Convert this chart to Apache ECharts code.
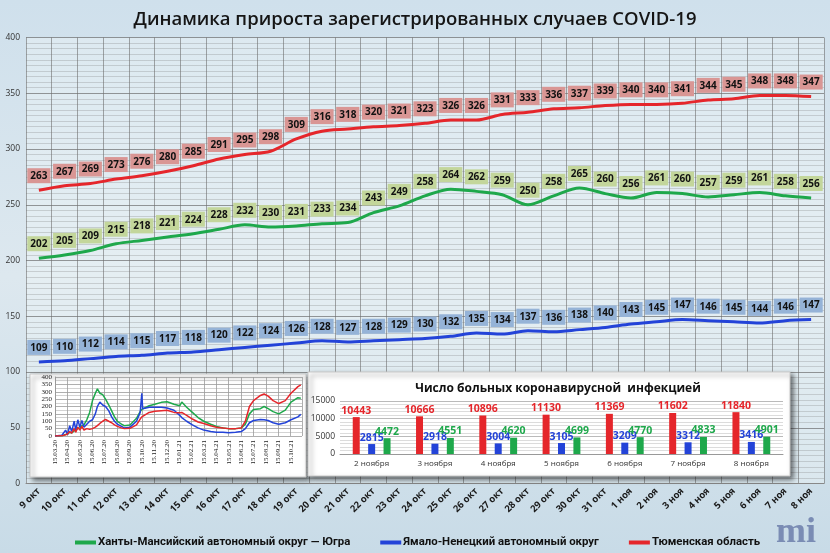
<!DOCTYPE html>
<html><head><meta charset="utf-8">
<script src="https://cdn.jsdelivr.net/npm/echarts@6/dist/echarts.min.js"></script>
<style>html,body{margin:0;padding:0;}#c{width:830px;height:553px;}</style>
</head><body><div id="c"></div>
<script>
// ---------- main chart data ----------
const categories = ['9 окт','10 окт','11 окт','12 окт','13 окт','14 окт','15 окт','16 окт','17 окт','18 окт','19 окт','20 окт','21 окт','22 окт','23 окт','24 окт','25 окт','26 окт','27 окт','28 окт','29 окт','30 окт','31 окт','1 ноя','2 ноя','3 ноя','4 ноя','5 ноя','6 ноя','7 ноя','8 ноя'];
const hmao = [202,205,209,215,218,221,224,228,232,230,231,233,234,243,249,258,264,262,259,250,258,265,260,256,261,260,257,259,261,258,256];
const yanao = [109,110,112,114,115,117,118,120,122,124,126,128,127,128,129,130,132,135,134,137,136,138,140,143,145,147,146,145,144,146,147];
const tyumen = [263,267,269,273,276,280,285,291,295,298,309,316,318,320,321,323,326,326,331,333,336,337,339,340,340,341,344,345,348,348,347];
const seriesNames = ['Ханты-Мансийский автономный округ — Югра','Ямало-Ненецкий автономный округ','Тюменская область'];

// ---------- mini (history) chart data ----------
const miniDates = ['2020-03-15','2020-04-01','2020-04-10','2020-04-15','2020-04-20','2020-04-25','2020-05-01','2020-05-05','2020-05-10','2020-05-15','2020-05-20','2020-05-25','2020-06-01','2020-06-08','2020-06-15','2020-06-22','2020-06-27','2020-07-03','2020-07-10','2020-07-17','2020-07-25','2020-08-01','2020-08-08','2020-08-15','2020-08-25','2020-09-01','2020-09-15','2020-10-01','2020-10-10','2020-10-14','2020-10-16','2020-11-01','2020-11-15','2020-12-01','2020-12-15','2021-01-01','2021-01-15','2021-01-20','2021-02-01','2021-02-15','2021-03-01','2021-03-15','2021-04-01','2021-04-15','2021-05-01','2021-05-15','2021-06-01','2021-06-15','2021-06-25','2021-07-05','2021-07-15','2021-08-01','2021-08-10','2021-08-20','2021-09-01','2021-09-15','2021-10-01','2021-10-15','2021-11-01','2021-11-08'];
const miniHmao = [0,2,10,15,25,20,35,40,50,55,70,75,110,160,240,290,320,290,280,250,210,170,130,100,80,70,75,120,165,180,185,205,215,228,232,215,205,230,195,160,125,100,80,65,55,50,50,55,80,150,180,185,200,185,165,150,175,230,260,256];
const miniYanao = [0,5,40,10,70,30,100,40,110,60,105,60,80,100,110,150,200,230,210,200,170,130,100,80,65,55,60,100,160,290,185,195,195,195,190,175,140,125,100,75,55,40,30,25,25,22,25,30,50,90,105,112,110,105,90,80,90,110,130,147];
const miniTyumen = [0,1,8,15,30,20,50,25,60,40,65,40,50,45,50,60,70,85,100,112,100,90,75,65,55,50,52,75,115,130,135,160,168,172,175,160,158,160,140,115,95,85,70,60,55,50,50,55,100,200,240,275,285,270,240,220,240,290,335,347];
const miniTickLabels = ['15.03.20','15.04.20','15.05.20','15.06.20','15.07.20','15.08.20','15.09.20','15.10.20','15.11.20','15.12.20','15.01.21','15.02.21','15.03.21','15.04.21','15.05.21','15.06.21','15.07.21','15.08.21','15.09.21','15.10.21'];

// ---------- bar chart data ----------
const barCategories = ['2 ноября','3 ноября','4 ноября','5 ноября','6 ноября','7 ноября','8 ноября'];
const barTyumen = [10443,10666,10896,11130,11369,11602,11840];
const barYanao = [2815,2918,3004,3105,3209,3312,3416];
const barHmao = [4472,4551,4620,4699,4770,4833,4901];

const RED = '#e5262b', GREEN = '#1ea84b', BLUE = '#2343d8';
const FONT = 'Open Sans';
const base = Date.parse('2020-03-15');
const toDay = d => (Date.parse(d) - base) / 86400000;
const pairs = vals => miniDates.map((d, i) => [toDay(d), vals[i]]);

const mainLabel = bg => ({
  show: true, position: 'top', distance: 7, backgroundColor: bg,
  borderWidth: 0, borderColor: 'transparent', textBorderWidth: 0, textBorderColor: 'transparent',
  shadowBlur: 0, textShadowBlur: 0,
  padding: [3, 3, 2, 3], color: '#111', fontWeight: 'bold', fontSize: 10, fontFamily: FONT
});
const barLabel = c => ({ show: true, position: 'top', distance: 1, color: c, fontWeight: 'bold', fontSize: 10.5, fontFamily: FONT,
  textBorderWidth: 0, textBorderColor: 'transparent' });

const chart = echarts.init(document.getElementById('c'));
chart.setOption({
  animation: false,
  backgroundColor: {
    type: 'linear', x: 0, y: 0, x2: 0, y2: 1,
    colorStops: [{offset: 0, color: '#cfe0ec'}, {offset: 0.5, color: '#dde8ef'}, {offset: 1, color: '#c8dbe7'}]
  },
  title: [
    { text: 'Динамика прироста зарегистрированных случаев COVID-19', left: 'center', top: 5,
      textStyle: { fontFamily: FONT, fontSize: 18.5, fontWeight: 600, color: '#151515' } },
    { text: 'Число больных коронавирусной  инфекцией', left: 553, top: 378, textAlign: 'center', z: 20,
      textStyle: { fontFamily: FONT, fontSize: 12, fontWeight: 'bold', color: '#111' } }
  ],
  legend: {
    data: seriesNames, left: 70, top: 532, itemGap: 30, icon: 'rect', itemWidth: 21, itemHeight: 4,
    textStyle: { fontFamily: 'Roboto', fontSize: 11.4, fontWeight: 'bold', color: '#111', padding: [0, 0, 0, -3] }
  },
  graphic: [
    { type: 'rect', z: 10, shape: { x: 30, y: 374, width: 276, height: 103 },
      style: { fill: '#ffffff', stroke: '#c8c8c8', lineWidth: 1, shadowBlur: 5, shadowOffsetX: 3, shadowOffsetY: 3, shadowColor: 'rgba(0,0,0,0.55)' } },
    { type: 'rect', z: 10, shape: { x: 308, y: 372, width: 482, height: 104 },
      style: { fill: '#ffffff', stroke: '#c8c8c8', lineWidth: 1, shadowBlur: 5, shadowOffsetX: 3, shadowOffsetY: 3, shadowColor: 'rgba(0,0,0,0.55)' } },
    { type: 'text', z: 10, left: 776, top: 515,
      style: { text: 'mi', fill: '#7a8cb4', font: 'bold 36px "Liberation Serif"' } }
  ],
  grid: [
    { left: 26, right: 6, top: 37.5, bottom: 69.5, show: true, backgroundColor: 'rgba(244,248,250,0.35)', borderWidth: 0 },
    { left: 55, right: 528, top: 377, bottom: 117, z: 11 },
    { left: 340, right: 47, top: 401, bottom: 99, z: 11 }
  ],
  xAxis: [
    { type: 'category', gridIndex: 0, data: categories, boundaryGap: true,
      axisLine: { lineStyle: { color: '#888' } }, axisTick: { show: false },
      splitLine: { show: true, interval: 0, lineStyle: { color: 'rgba(110,110,110,0.6)', width: 1 } },
      axisLabel: { rotate: 45, interval: 0, margin: 6, fontFamily: FONT, fontSize: 9.5, fontWeight: 'bold', color: '#1a1a1a' } },
    { type: 'value', gridIndex: 1, min: 0, max: 606, interval: 30.44, z: 12,
      axisLine: { show: false }, axisTick: { show: false },
      splitLine: { show: true, lineStyle: { color: '#9a9a9a', width: 0.8 } },
      axisLabel: { rotate: 90, margin: 4, showMaxLabel: false, fontFamily: 'Liberation Serif', fontSize: 7, color: '#222',
        formatter: v => miniTickLabels[Math.round(v / 30.44)] || '' } },
    { type: 'category', gridIndex: 2, data: barCategories, z: 12,
      axisLine: { lineStyle: { color: '#999' } }, axisTick: { show: false },
      axisLabel: { fontFamily: FONT, fontSize: 8, color: '#333', margin: 6 } }
  ],
  yAxis: [
    { type: 'value', gridIndex: 0, min: 0, max: 400, interval: 50,
      axisLine: { show: false }, axisTick: { show: false },
      axisLabel: { fontFamily: FONT, fontSize: 8.5, color: '#333', margin: 6 },
      splitLine: { lineStyle: { color: 'rgba(100,100,100,0.65)', width: 1 } },
      minorTick: { show: false, splitNumber: 10 },
      minorSplitLine: { show: true, lineStyle: { color: 'rgba(120,120,120,0.35)', width: 0.8 } } },
    { type: 'value', gridIndex: 1, min: 0, max: 400, interval: 50, z: 12,
      axisLine: { show: true, lineStyle: { color: '#999' } }, axisTick: { show: false },
      axisLabel: { fontFamily: 'Liberation Serif', fontSize: 7, color: '#222', margin: 3 },
      splitLine: { lineStyle: { color: '#9a9a9a', width: 0.8 } },
      minorTick: { show: false, splitNumber: 2 },
      minorSplitLine: { show: true, lineStyle: { color: '#b5b5b5', width: 0.6 } } },
    { type: 'value', gridIndex: 2, min: 0, max: 15000, interval: 5000, z: 12,
      axisLine: { show: false }, axisTick: { show: false },
      axisLabel: { fontFamily: FONT, fontSize: 8.5, color: '#333', margin: 5, formatter: v => String(v) },
      splitLine: { lineStyle: { color: '#a8a8a8', width: 0.8 } },
      minorTick: { show: false, splitNumber: 5 },
      minorSplitLine: { show: true, lineStyle: { color: '#c4c4c4', width: 0.6 } } }
  ],
  series: [
    { name: seriesNames[0], type: 'line', xAxisIndex: 0, yAxisIndex: 0, data: hmao, smooth: 0.3,
      showSymbol: true, symbol: 'circle', symbolSize: 0.1,
      lineStyle: { color: GREEN, width: 3 }, itemStyle: { color: GREEN }, label: mainLabel('#c3d69b') },
    { name: seriesNames[1], type: 'line', xAxisIndex: 0, yAxisIndex: 0, data: yanao, smooth: 0.3,
      showSymbol: true, symbol: 'circle', symbolSize: 0.1,
      lineStyle: { color: BLUE, width: 3 }, itemStyle: { color: BLUE }, label: mainLabel('#95b3d7') },
    { name: seriesNames[2], type: 'line', xAxisIndex: 0, yAxisIndex: 0, data: tyumen, smooth: 0.3,
      showSymbol: true, symbol: 'circle', symbolSize: 0.1,
      lineStyle: { color: RED, width: 3 }, itemStyle: { color: RED }, label: mainLabel('#d99694') },

    { type: 'line', xAxisIndex: 1, yAxisIndex: 1, data: pairs(miniHmao), symbol: 'none', z: 13,
      lineStyle: { color: GREEN, width: 1.5 } },
    { type: 'line', xAxisIndex: 1, yAxisIndex: 1, data: pairs(miniYanao), symbol: 'none', z: 13,
      lineStyle: { color: BLUE, width: 1.5 } },
    { type: 'line', xAxisIndex: 1, yAxisIndex: 1, data: pairs(miniTyumen), symbol: 'none', z: 13,
      lineStyle: { color: RED, width: 1.5 } },

    { type: 'bar', xAxisIndex: 2, yAxisIndex: 2, data: barTyumen, barWidth: 7, barGap: '120%', z: 13,
      itemStyle: { color: RED }, label: barLabel(RED) },
    { type: 'bar', xAxisIndex: 2, yAxisIndex: 2, data: barYanao, barWidth: 7, barGap: '120%', z: 13,
      itemStyle: { color: BLUE }, label: barLabel(BLUE) },
    { type: 'bar', xAxisIndex: 2, yAxisIndex: 2, data: barHmao, barWidth: 7, barGap: '120%', z: 13,
      itemStyle: { color: GREEN }, label: barLabel(GREEN) }
  ]
});
</script></body></html>
